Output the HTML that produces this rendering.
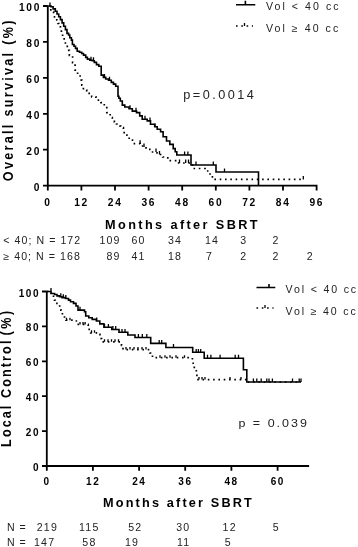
<!DOCTYPE html>
<html><head><meta charset="utf-8"><style>
html,body{margin:0;padding:0;background:#fff;width:358px;height:547px;overflow:hidden}
svg{display:block;will-change:transform}
text{font-family:"Liberation Sans", sans-serif}
</style></head><body>
<svg width="358" height="547" viewBox="0 0 358 547">
<rect width="358" height="547" fill="#fff"/>
<path d="M47.8 5.4 V186.5 M46.9 185.6 H317.5 M43.0 185.6 H47.8 M43.0 149.7 H47.8 M43.0 113.8 H47.8 M43.0 77.8 H47.8 M43.0 41.9 H47.8 M43.0 6.0 H47.8 M47.8 185.6 V190.6 M81.4 185.6 V190.6 M115.0 185.6 V190.6 M148.6 185.6 V190.6 M182.2 185.6 V190.6 M215.8 185.6 V190.6 M249.4 185.6 V190.6 M283.0 185.6 V190.6 M316.6 185.6 V190.6 " stroke="#000" stroke-width="1.8" fill="none"/>
<path d="M48.6 6.0 H50.0 V6.0 H51.0 V6.7 H53.1 V8.9 H55.3 V11.2 H57.0 V14.0 H58.7 V16.8 H60.4 V19.6 H62.1 V22.9 H63.7 V26.3 H65.4 V29.6 H67.0 V33.4 H68.6 V35.0 H69.8 V37.8 H71.4 V40.1 H72.4 V44.5 H74.0 V46.2 H75.5 V48.4 H77.2 V51.2 H79.5 V52.3 H81.7 V53.5 H83.5 V55.1 H85.7 V57.4 H87.4 V59.1 H89.8 V60.2 H92.1 V60.7 H94.3 V62.4 H96.5 V64.6 H98.8 V66.3 H101.2 V67.5 H101.2 V75.1 H103.4 V77.4 H105.7 V79.0 H108.5 V80.2 H111.3 V82.4 H113.5 V84.1 H115.7 V86.3 H118.0 V87.8 H118.0 V96.3 H118.9 V98.3 H120.3 V101.0 H122.3 V105.1 H124.8 V107.0 H129.0 V108.7 H132.3 V111.1 H136.5 V112.6 H139.7 V115.9 H142.2 V119.2 H147.2 V120.9 H150.5 V124.3 H154.7 V126.8 H157.2 V129.3 H160.6 V131.8 H163.1 V136.8 H166.5 V141.0 H169.8 V144.4 H173.2 V148.6 H175.2 V151.8 H176.8 V155.0 H191.0 V155.0 H191.0 V165.0 H216.0 V165.0 H216.0 V172.0 H258.5 V172.0 H258.5 V185.6" stroke="#000" stroke-width="1.6" fill="none"/>
<path d="M50.0 6.0 v-3.4 M91.0 60.2 v-3.4 M93.5 60.7 v-3.4 M104.5 77.4 v-3.4 M109.5 80.2 v-3.4 M130.0 108.7 v-3.4 M136.0 111.1 v-3.4 M145.0 119.2 v-3.4 M150.0 120.9 v-3.4 M155.0 126.8 v-3.4 M184.6 155.0 v-3.4 M187.9 155.0 v-3.4 M196.0 165.0 v-3.4 M213.3 165.0 v-3.4 M224.5 172.0 v-3.4 " stroke="#000" stroke-width="1.3" fill="none"/>
<path d="M48.6 6.0 H49.6 V7.5 H50.8 V11.7 H53.6 V16.8 H56.8 V20.0 H58.0 V23.5 H59.1 V26.8 H60.4 V30.2 H61.4 V33.5 H62.6 V36.9 H64.2 V41.9 H65.4 V45.3 H67.3 V50.3 H69.4 V55.3 H72.6 V62.6 H75.1 V70.2 H77.6 V75.2 H80.1 V80.2 H81.8 V85.2 H83.4 V90.0 H86.7 V92.6 H89.2 V94.7 H91.7 V96.8 H95.9 V100.1 H101.0 V102.6 H104.3 V106.8 H106.8 V112.7 H110.2 V117.7 H112.3 V119.8 H114.4 V121.9 H116.5 V124.0 H118.5 V126.1 H120.8 V127.7 H123.4 V131.0 H124.2 V135.2 H128.4 V135.2 H129.2 V140.2 H133.4 V143.6 H140.1 V144.4 H142.6 V146.9 H146.0 V149.4 H151.0 V152.0 H156.0 V152.8 H158.5 V154.5 H162.7 V157.0 H167.8 V160.7 H172.8 V160.7 H175.6 V163.0 H191.0 V163.0 H192.4 V168.5 H203.4 V168.5 H205.0 V171.0 H209.2 V172.7 H210.0 V176.9 H213.4 V179.4 H303.3 V179.4" stroke="#000" stroke-width="1.7" fill="none" stroke-dasharray="1.6 3.7"/>
<path d="M140.1 143.6 v-3.4 M144.0 146.9 v-3.4 M156.0 152.0 v-3.4 M159.5 154.5 v-3.4 M179.5 163.0 v-3.4 M185.7 163.0 v-3.4 M188.5 163.0 v-3.4 M303.3 179.4 v-3.4 " stroke="#000" stroke-width="1.3" fill="none"/>
<path d="M236 4.7 H255.3 M245.4 4.7 V0.8" stroke="#000" stroke-width="1.6" fill="none"/>
<path d="M236 26 H253" stroke="#000" stroke-width="1.7" fill="none" stroke-dasharray="1.6 3.7"/>
<path d="M244.5 26 V23" stroke="#000" stroke-width="1.3" fill="none"/>
<text transform="translate(41.2 190.9) scale(1.0 1)" font-size="10.2" font-weight="700" letter-spacing="1.75" text-anchor="end" fill="#000">0</text>
<text transform="translate(41.2 154.98) scale(1.0 1)" font-size="10.2" font-weight="700" letter-spacing="1.75" text-anchor="end" fill="#000">20</text>
<text transform="translate(41.2 119.06) scale(1.0 1)" font-size="10.2" font-weight="700" letter-spacing="1.75" text-anchor="end" fill="#000">40</text>
<text transform="translate(41.2 83.14) scale(1.0 1)" font-size="10.2" font-weight="700" letter-spacing="1.75" text-anchor="end" fill="#000">60</text>
<text transform="translate(41.2 47.22) scale(1.0 1)" font-size="10.2" font-weight="700" letter-spacing="1.75" text-anchor="end" fill="#000">80</text>
<text transform="translate(41.2 11.3) scale(1.0 1)" font-size="10.2" font-weight="700" letter-spacing="1.75" text-anchor="end" fill="#000">100</text>
<text transform="translate(48.0 205.9) scale(1.0 1)" font-size="10.2" font-weight="700" letter-spacing="1.75" text-anchor="middle" fill="#000">0</text>
<text transform="translate(81.6 205.9) scale(1.0 1)" font-size="10.2" font-weight="700" letter-spacing="1.75" text-anchor="middle" fill="#000">12</text>
<text transform="translate(115.2 205.9) scale(1.0 1)" font-size="10.2" font-weight="700" letter-spacing="1.75" text-anchor="middle" fill="#000">24</text>
<text transform="translate(148.8 205.9) scale(1.0 1)" font-size="10.2" font-weight="700" letter-spacing="1.75" text-anchor="middle" fill="#000">36</text>
<text transform="translate(182.4 205.9) scale(1.0 1)" font-size="10.2" font-weight="700" letter-spacing="1.75" text-anchor="middle" fill="#000">48</text>
<text transform="translate(216.0 205.9) scale(1.0 1)" font-size="10.2" font-weight="700" letter-spacing="1.75" text-anchor="middle" fill="#000">60</text>
<text transform="translate(249.6 205.9) scale(1.0 1)" font-size="10.2" font-weight="700" letter-spacing="1.75" text-anchor="middle" fill="#000">72</text>
<text transform="translate(283.2 205.9) scale(1.0 1)" font-size="10.2" font-weight="700" letter-spacing="1.75" text-anchor="middle" fill="#000">84</text>
<text transform="translate(316.8 205.9) scale(1.0 1)" font-size="10.2" font-weight="700" letter-spacing="1.75" text-anchor="middle" fill="#000">96</text>
<text transform="translate(105.0 228.5) scale(1.06 1)" font-size="12.0" font-weight="700" letter-spacing="2.25" text-anchor="start" fill="#000">Months after SBRT</text>
<text transform="translate(13.2 181.2) scale(1.13 1) rotate(-90)" font-size="12.6" font-weight="700" letter-spacing="2.3" text-anchor="start" fill="#000">Overall survival (%)</text>
<text transform="translate(266.0 10.0) scale(1.02 1)" font-size="10.4" font-weight="400" letter-spacing="2.0" text-anchor="start" fill="#222">Vol &lt; 40 cc</text>
<text transform="translate(266.0 32.4) scale(1.02 1)" font-size="10.4" font-weight="400" letter-spacing="2.0" text-anchor="start" fill="#222">Vol ≥ 40 cc</text>
<text transform="translate(183.3 98.5) scale(1.06 1)" font-size="12" font-weight="400" letter-spacing="2.3" text-anchor="start" fill="#222">p=0.0014</text>
<text transform="translate(3.3 244.3) scale(1.06 1)" font-size="10.0" font-weight="400" letter-spacing="1.0" text-anchor="start" fill="#222">&lt; 40; N = 172</text>
<text transform="translate(99.6 244.3) scale(1.06 1)" font-size="10.0" font-weight="400" letter-spacing="1.0" text-anchor="start" fill="#222">109</text>
<text transform="translate(131.6 244.3) scale(1.06 1)" font-size="10.0" font-weight="400" letter-spacing="1.0" text-anchor="start" fill="#222">60</text>
<text transform="translate(168.0 244.3) scale(1.06 1)" font-size="10.0" font-weight="400" letter-spacing="1.0" text-anchor="start" fill="#222">34</text>
<text transform="translate(205.0 244.3) scale(1.06 1)" font-size="10.0" font-weight="400" letter-spacing="1.0" text-anchor="start" fill="#222">14</text>
<text transform="translate(240.3 244.3) scale(1.06 1)" font-size="10.0" font-weight="400" letter-spacing="1.0" text-anchor="start" fill="#222">3</text>
<text transform="translate(272.4 244.3) scale(1.06 1)" font-size="10.0" font-weight="400" letter-spacing="1.0" text-anchor="start" fill="#222">2</text>
<text transform="translate(3.3 259.9) scale(1.06 1)" font-size="10.0" font-weight="400" letter-spacing="1.0" text-anchor="start" fill="#222">≥ 40; N = 168</text>
<text transform="translate(106.6 259.9) scale(1.06 1)" font-size="10.0" font-weight="400" letter-spacing="1.0" text-anchor="start" fill="#222">89</text>
<text transform="translate(131.6 259.9) scale(1.06 1)" font-size="10.0" font-weight="400" letter-spacing="1.0" text-anchor="start" fill="#222">41</text>
<text transform="translate(168.0 259.9) scale(1.06 1)" font-size="10.0" font-weight="400" letter-spacing="1.0" text-anchor="start" fill="#222">18</text>
<text transform="translate(206.0 259.9) scale(1.06 1)" font-size="10.0" font-weight="400" letter-spacing="1.0" text-anchor="start" fill="#222">7</text>
<text transform="translate(240.3 259.9) scale(1.06 1)" font-size="10.0" font-weight="400" letter-spacing="1.0" text-anchor="start" fill="#222">2</text>
<text transform="translate(272.4 259.9) scale(1.06 1)" font-size="10.0" font-weight="400" letter-spacing="1.0" text-anchor="start" fill="#222">2</text>
<text transform="translate(306.8 259.9) scale(1.06 1)" font-size="10.0" font-weight="400" letter-spacing="1.0" text-anchor="start" fill="#222">2</text>
<path d="M46.8 290.9 V466.9 M45.9 466.0 H309.1 M42.0 466.0 H46.8 M42.0 431.1 H46.8 M42.0 396.2 H46.8 M42.0 361.3 H46.8 M42.0 326.4 H46.8 M42.0 291.5 H46.8 M46.8 466.0 V470.8 M92.9 466.0 V470.8 M139.1 466.0 V470.8 M185.2 466.0 V470.8 M231.4 466.0 V470.8 M277.6 466.0 V470.8 " stroke="#000" stroke-width="1.8" fill="none"/>
<path d="M46.8 291.5 H51.0 V293.5 H54.5 V294.5 H57.0 V295.9 H59.5 V296.7 H62.0 V297.6 H65.5 V298.5 H68.5 V300.1 H70.5 V301.8 H73.5 V303.4 H76.0 V306.0 H78.0 V310.1 H84.5 V311.8 H85.7 V316.0 H88.8 V317.7 H92.2 V319.4 H96.4 V321.0 H99.8 V323.9 H103.9 V327.3 H111.8 V329.5 H119.0 V332.3 H127.8 V335.0 H135.0 V337.5 H150.7 V343.4 H165.9 V347.5 H192.7 V352.3 H204.2 V358.2 H243.4 V369.8 H246.8 V382.0 H301.0 V382.0" stroke="#000" stroke-width="1.6" fill="none"/>
<path d="M51.0 291.5 v-3.4 M60.8 296.7 v-3.4 M63.3 297.6 v-3.4 M65.8 298.5 v-3.4 M80.0 310.1 v-3.4 M96.7 321.0 v-3.4 M104.5 327.3 v-3.4 M108.4 327.3 v-3.4 M112.9 329.5 v-3.4 M115.7 329.5 v-3.4 M122.0 332.3 v-3.4 M125.0 332.3 v-3.4 M138.4 337.5 v-3.4 M142.3 337.5 v-3.4 M146.8 337.5 v-3.4 M159.2 343.4 v-3.4 M161.7 343.4 v-3.4 M173.5 347.5 v-3.4 M196.2 352.3 v-3.4 M198.4 352.3 v-3.4 M200.7 352.3 v-3.4 M207.5 358.2 v-3.4 M210.9 358.2 v-3.4 M220.1 358.2 v-3.4 M235.2 358.2 v-3.4 M238.5 358.2 v-3.4 M253.4 382.0 v-3.4 M256.8 382.0 v-3.4 M261.2 382.0 v-3.4 M266.8 382.0 v-3.4 M269.0 382.0 v-3.4 M272.4 382.0 v-3.4 M292.5 382.0 v-3.4 M299.2 382.0 v-3.4 M301.0 382.0 v-3.4 " stroke="#000" stroke-width="1.3" fill="none"/>
<path d="M46.8 291.5 H51.2 V294.2 H53.5 V297.5 H54.5 V300.1 H55.7 V303.4 H58.0 V306.0 H59.7 V310.1 H61.2 V313.0 H62.4 V315.2 H64.5 V318.5 H66.0 V320.2 H74.0 V321.0 H77.3 V324.4 H88.2 V329.4 H90.7 V332.8 H97.4 V334.4 H99.9 V338.6 H101.6 V341.8 H121.5 V345.5 H123.0 V349.6 H149.8 V353.0 H150.5 V355.0 H152.5 V357.7 H192.4 V360.2 H193.2 V365.2 H194.3 V369.0 H196.3 V372.0 H196.9 V379.6 H246.5 V379.6 H247.0 V382.0 H301.0 V382.0" stroke="#000" stroke-width="1.7" fill="none" stroke-dasharray="1.6 3.7"/>
<path d="M66.5 320.2 v-2.5 M70.0 320.2 v-2.5 M80.0 324.4 v-2.5 M83.0 324.4 v-2.5 M85.1 324.4 v-2.5 M91.5 332.8 v-2.5 M94.5 332.8 v-2.5 M104.5 341.8 v-2.5 M108.0 341.8 v-2.5 M111.5 341.8 v-2.5 M115.0 341.8 v-2.5 M118.5 341.8 v-2.5 M126.0 349.6 v-2.5 M130.0 349.6 v-2.5 M134.0 349.6 v-2.5 M138.0 349.6 v-2.5 M142.0 349.6 v-2.5 M146.0 349.6 v-2.5 M160.0 357.7 v-2.5 M165.0 357.7 v-2.5 M170.0 357.7 v-2.5 M176.0 357.7 v-2.5 M184.5 357.7 v-2.5 M199.0 379.6 v-2.5 M202.0 379.6 v-2.5 M205.0 379.6 v-2.5 M230.0 379.6 v-2.5 M241.0 379.6 v-2.5 " stroke="#000" stroke-width="1.3" fill="none"/>
<path d="M256.5 287.5 H275.3 M269 287.5 V284" stroke="#000" stroke-width="1.6" fill="none"/>
<path d="M256.5 308 H273.5" stroke="#000" stroke-width="1.7" fill="none" stroke-dasharray="1.6 3.7"/>
<path d="M265 308 V305" stroke="#000" stroke-width="1.3" fill="none"/>
<text transform="translate(40.1 471.0) scale(1.0 1)" font-size="10.0" font-weight="700" letter-spacing="1.55" text-anchor="end" fill="#000">0</text>
<text transform="translate(40.1 436.1) scale(1.0 1)" font-size="10.0" font-weight="700" letter-spacing="1.55" text-anchor="end" fill="#000">20</text>
<text transform="translate(40.1 401.2) scale(1.0 1)" font-size="10.0" font-weight="700" letter-spacing="1.55" text-anchor="end" fill="#000">40</text>
<text transform="translate(40.1 366.3) scale(1.0 1)" font-size="10.0" font-weight="700" letter-spacing="1.55" text-anchor="end" fill="#000">60</text>
<text transform="translate(40.1 331.4) scale(1.0 1)" font-size="10.0" font-weight="700" letter-spacing="1.55" text-anchor="end" fill="#000">80</text>
<text transform="translate(40.1 296.5) scale(1.0 1)" font-size="10.0" font-weight="700" letter-spacing="1.55" text-anchor="end" fill="#000">100</text>
<text transform="translate(47.0 485.2) scale(1.0 1)" font-size="10.0" font-weight="700" letter-spacing="1.55" text-anchor="middle" fill="#000">0</text>
<text transform="translate(93.15 485.2) scale(1.0 1)" font-size="10.0" font-weight="700" letter-spacing="1.55" text-anchor="middle" fill="#000">12</text>
<text transform="translate(139.3 485.2) scale(1.0 1)" font-size="10.0" font-weight="700" letter-spacing="1.55" text-anchor="middle" fill="#000">24</text>
<text transform="translate(185.45 485.2) scale(1.0 1)" font-size="10.0" font-weight="700" letter-spacing="1.55" text-anchor="middle" fill="#000">36</text>
<text transform="translate(231.6 485.2) scale(1.0 1)" font-size="10.0" font-weight="700" letter-spacing="1.55" text-anchor="middle" fill="#000">48</text>
<text transform="translate(277.75 485.2) scale(1.0 1)" font-size="10.0" font-weight="700" letter-spacing="1.55" text-anchor="middle" fill="#000">60</text>
<text transform="translate(103.0 507.4) scale(1.06 1)" font-size="12.0" font-weight="700" letter-spacing="2.03" text-anchor="start" fill="#000">Months after SBRT</text>
<text transform="translate(10.9 446.9) scale(1.12 1) rotate(-90)" font-size="12.6" font-weight="700" letter-spacing="2.1" text-anchor="start" fill="#000">Local Control</text>
<text transform="translate(10.9 335.5) scale(1.12 1) rotate(-90)" font-size="12.6" font-weight="700" letter-spacing="2.6" text-anchor="start" fill="#000">(%)</text>
<text transform="translate(285.6 292.6) scale(1.02 1)" font-size="10.4" font-weight="400" letter-spacing="1.8" text-anchor="start" fill="#222">Vol &lt; 40 cc</text>
<text transform="translate(285.6 314.6) scale(1.02 1)" font-size="10.4" font-weight="400" letter-spacing="1.8" text-anchor="start" fill="#222">Vol ≥ 40 cc</text>
<text transform="translate(238.4 427.1) scale(1.06 1)" font-size="11.8" font-weight="400" letter-spacing="1.9" text-anchor="start" fill="#222">p = 0.039</text>
<text transform="translate(7.0 531.3) scale(1.06 1)" font-size="10.0" font-weight="400" letter-spacing="1.2" text-anchor="start" fill="#222">N</text>
<text transform="translate(19.6 531.3) scale(1.06 1)" font-size="10.0" font-weight="400" letter-spacing="1.2" text-anchor="start" fill="#222">=</text>
<text transform="translate(36.7 531.3) scale(1.06 1)" font-size="10.0" font-weight="400" letter-spacing="1.2" text-anchor="start" fill="#222">219</text>
<text transform="translate(78.9 531.3) scale(1.06 1)" font-size="10.0" font-weight="400" letter-spacing="1.2" text-anchor="start" fill="#222">115</text>
<text transform="translate(128.2 531.3) scale(1.06 1)" font-size="10.0" font-weight="400" letter-spacing="1.2" text-anchor="start" fill="#222">52</text>
<text transform="translate(176.2 531.3) scale(1.06 1)" font-size="10.0" font-weight="400" letter-spacing="1.2" text-anchor="start" fill="#222">30</text>
<text transform="translate(222.5 531.3) scale(1.06 1)" font-size="10.0" font-weight="400" letter-spacing="1.2" text-anchor="start" fill="#222">12</text>
<text transform="translate(272.8 531.3) scale(1.06 1)" font-size="10.0" font-weight="400" letter-spacing="1.2" text-anchor="start" fill="#222">5</text>
<text transform="translate(7.0 546.4) scale(1.06 1)" font-size="10.0" font-weight="400" letter-spacing="1.2" text-anchor="start" fill="#222">N</text>
<text transform="translate(19.6 546.4) scale(1.06 1)" font-size="10.0" font-weight="400" letter-spacing="1.2" text-anchor="start" fill="#222">=</text>
<text transform="translate(33.9 546.4) scale(1.06 1)" font-size="10.0" font-weight="400" letter-spacing="1.2" text-anchor="start" fill="#222">147</text>
<text transform="translate(82.3 546.4) scale(1.06 1)" font-size="10.0" font-weight="400" letter-spacing="1.2" text-anchor="start" fill="#222">58</text>
<text transform="translate(124.9 546.4) scale(1.06 1)" font-size="10.0" font-weight="400" letter-spacing="1.2" text-anchor="start" fill="#222">19</text>
<text transform="translate(176.9 546.4) scale(1.06 1)" font-size="10.0" font-weight="400" letter-spacing="1.2" text-anchor="start" fill="#222">11</text>
<text transform="translate(224.8 546.4) scale(1.06 1)" font-size="10.0" font-weight="400" letter-spacing="1.2" text-anchor="start" fill="#222">5</text>
</svg>
</body></html>
